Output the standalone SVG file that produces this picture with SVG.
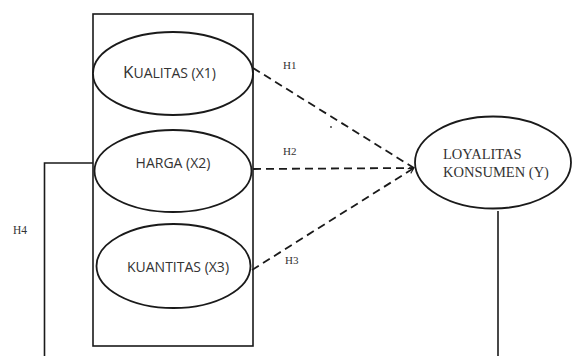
<svg xmlns="http://www.w3.org/2000/svg" width="572" height="356" viewBox="0 0 572 356">
<defs>
<style>
.shape{fill:none;stroke:#1a1a1a;stroke-width:1.6}
.ell{fill:#fff;stroke:#1a1a1a;stroke-width:1.8}
.dash{fill:none;stroke:#1a1a1a;stroke-width:1.8;stroke-dasharray:8 5}
.sans{font-family:"Open Sans","Noto Sans",sans-serif;fill:#333;font-size:14px}
.serif{font-family:"Liberation Serif","Times New Roman",serif;fill:#333}
</style>
<marker id="arr" viewBox="0 0 10 10" refX="9" refY="5" markerWidth="7" markerHeight="7" orient="auto-start-reverse" markerUnits="userSpaceOnUse">
<path d="M1,1 L9,5 L1,9" fill="none" stroke="#1a1a1a" stroke-width="1.5"/>
</marker>
</defs>
<rect width="572" height="356" fill="#fff"/>
<g id="box">
<rect class="shape" x="93" y="14" width="160" height="332"/>
</g>
<g id="connectors">
<line class="dash" x1="253" y1="68" x2="414" y2="168"/>
<line class="dash" x1="253" y1="169" x2="414" y2="168"/>
<line class="dash" x1="252" y1="270" x2="414" y2="168" marker-end="url(#arr)"/>
<polyline class="shape" points="93,163 44.5,163 44.5,356"/>
<line class="shape" x1="498" y1="211" x2="498" y2="356"/>
<circle cx="331" cy="127" r="0.9" fill="#333"/>
</g>
<g id="kualitas">
<ellipse class="ell" cx="173" cy="73.5" rx="80" ry="41.5"/>
<text class="sans" x="123" y="78"><tspan font-size="17">K</tspan>UALITAS (X1)</text>
</g>
<g id="harga">
<ellipse class="ell" cx="173" cy="171" rx="78.5" ry="41"/>
<text class="sans" x="173" y="168" text-anchor="middle">HARGA (X2)</text>
</g>
<g id="kuantitas">
<ellipse class="ell" cx="173.5" cy="266" rx="77" ry="42"/>
<text class="sans" x="178" y="272" text-anchor="middle">KUANTITAS (X3)</text>
</g>
<g id="loyalitas">
<ellipse class="ell" cx="493" cy="162.5" rx="78" ry="46"/>
<text class="serif" font-size="14.5" x="443" y="159">LOYALITAS</text>
<text class="serif" font-size="14.5" x="443" y="177">KONSUMEN (Y)</text>
</g>
<g id="labels">
<text class="serif" font-size="11" x="283" y="69">H1</text>
<text class="serif" font-size="11" x="283" y="155">H2</text>
<text class="serif" font-size="11" x="285" y="264">H3</text>
<text class="serif" font-size="11.5" x="13" y="234">H4</text>
</g>
</svg>
